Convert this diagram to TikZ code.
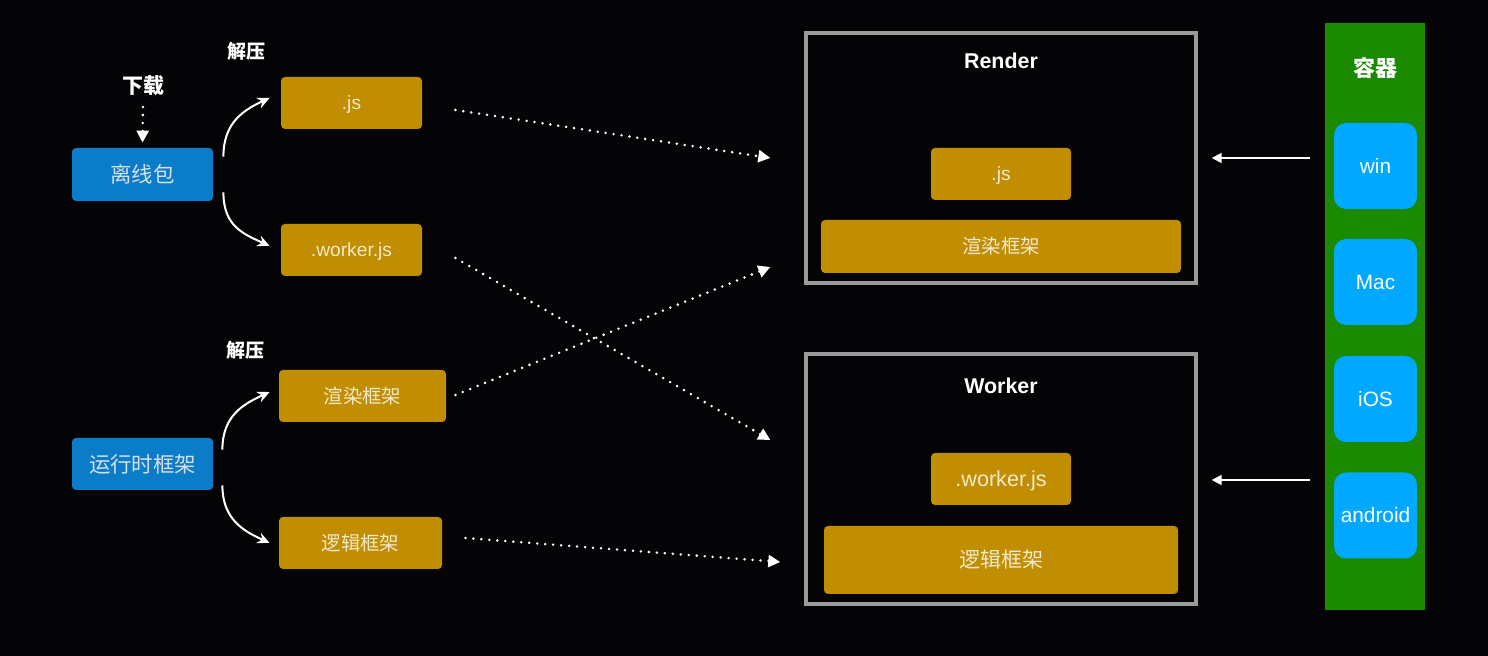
\documentclass[tikz,border=0pt]{standalone}
\usepackage{fontspec}
\setmainfont{Liberation Sans}
\newfontfamily\cjk{Noto Sans CJK SC}
\usetikzlibrary{arrows.meta,calc}
\definecolor{bgc}{HTML}{040306}
\definecolor{gold}{HTML}{C08E00}
\definecolor{goldtxt}{HTML}{F2E8CC}
\definecolor{dblue}{HTML}{0A7CC8}
\definecolor{dbluetxt}{HTML}{D6DEE8}
\definecolor{lblue}{HTML}{00A8FF}
\definecolor{cgreen}{HTML}{1A8A00}
\definecolor{frame}{HTML}{9A9A9A}
\tikzset{
  gbox/.style={fill=gold, rounded corners=2pt, inner sep=0pt, text=goldtxt, font=\fontsize{9.6}{11}\selectfont},
  latin/.style={text depth=0pt},
  bbox/.style={fill=dblue, rounded corners=2pt, inner sep=0pt, text=dbluetxt, font=\cjk\fontsize{10.7}{12}\selectfont},
  pbox/.style={fill=lblue, rounded corners=6pt, inner sep=0pt, text=white, minimum width=41.5pt, minimum height=43pt, font=\fontsize{10.4}{12}\selectfont},
  lbl/.style={text=white, font=\cjk\bfseries\fontsize{9.5}{11}\selectfont},
  sketch/.style={draw=frame, line width=1.7pt, inner sep=0pt, minimum width=195pt, minimum height=125pt},
  title/.style={text=white, font=\bfseries\fontsize{10.7}{12}\selectfont},
  curv/.style={draw=white, line width=1pt, -{Stealth[length=6pt,width=5.5pt]}},
  dotarrow/.style={draw=white, line width=1.4pt, line cap=round, dash pattern=on 0pt off 4pt, -{Triangle[length=6pt,width=6pt]}},
  solidarrow/.style={draw=white, line width=0.9pt, -{Triangle[length=5pt,width=5pt]}}
}
\begin{document}
\begin{tikzpicture}[x=0.5pt,y=-0.5pt]
\fill[bgc] (0,0) rectangle (1488,656);
\useasboundingbox (0,0) rectangle (1488,656);

% left: offline package
\node[bbox, minimum width=70.5pt, minimum height=26.5pt] (lp) at (142.5,174.5) {离线包};
\node[lbl, font=\cjk\bfseries\fontsize{10.5}{12}\selectfont] (dl) at (143,86) {下载};
\node[lbl] (jy1) at (246,51) {解压};
\coordinate (dltop) at (143,107);
\draw[dotarrow] (dltop) -- ($(lp.north)+(0,-5)$);

\node[gbox, latin, minimum width=70.5pt, minimum height=26pt] (js1) at (351.5,103) {.js};
\node[gbox, latin, minimum width=70.5pt, minimum height=26pt] (wjs1) at (351.5,250) {.worker.js};

\draw[curv] ($(lp.north east)+(10,9)$) .. controls +(0,-34) and +(-26,12) .. ($(js1.west)+(-11,-5)$);
\draw[curv] ($(lp.south east)+(10,-9)$) .. controls +(0,34) and +(-26,-12) .. ($(wjs1.west)+(-11,-4)$);

% left: runtime framework
\node[bbox, minimum width=70.5pt, minimum height=26pt] (rt) at (142.5,464) {运行时框架};
\node[lbl] (jy2) at (245,350) {解压};
\node[gbox, minimum width=83.5pt, minimum height=26pt, font=\cjk\fontsize{9.7}{11}\selectfont] (rf1) at (362.5,396) {渲染框架};
\node[gbox, minimum width=81.5pt, minimum height=26pt, font=\cjk\fontsize{9.7}{11}\selectfont] (lf1) at (360.5,543) {逻辑框架};

\draw[curv] ($(rt.north east)+(9,12)$) .. controls +(0,-34) and +(-26,12) .. ($(rf1.west)+(-9,-4)$);
\draw[curv] ($(rt.south east)+(9,-5)$) .. controls +(0,34) and +(-26,-12) .. ($(lf1.west)+(-9,0)$);

% Render box
\node[sketch] (render) at (1001,158) {};
\node[title] (rtitle) at (1001,61) {Render};
\node[gbox, latin, minimum width=70pt, minimum height=26pt] (js2) at (1001,174) {.js};
\node[gbox, minimum width=180pt, minimum height=26.5pt, font=\cjk\fontsize{9.7}{11}\selectfont] (rf2) at (1001,246.5) {渲染框架};

% Worker box
\node[sketch] (worker) at (1001,479) {};
\node[title] (wtitle) at (1001,386) {Worker};
\node[gbox, latin, minimum width=70pt, minimum height=26pt, font=\fontsize{10.8}{12}\selectfont] (wjs2) at (1001,479) {.worker.js};
\node[gbox, minimum width=177pt, minimum height=34pt, font=\cjk\fontsize{10.5}{12}\selectfont] (lf2) at (1001,560) {逻辑框架};

% dotted connectors
\draw[dotarrow] ($(js1.east)+(33,7)$) -- ($(render.west)+(-34,0)$);
\draw[dotarrow] ($(wjs1.east)+(33,8)$) -- ($(worker.west)+(-34,-39)$);
\draw[dotarrow] ($(rf1.east)+(9,-1)$) -- ($(render.west)+(-34,109)$);
\draw[dotarrow] ($(lf1.east)+(23,-5)$) -- ($(worker.west)+(-24,83)$);

% container
\node[fill=cgreen, inner sep=0pt, minimum width=50pt, minimum height=293.5pt] (cont) at (1375,316.5) {};
\node[lbl, font=\cjk\bfseries\fontsize{11}{12}\selectfont] (ctitle) at (1375,68) {容器};
\node[pbox] (win) at (1375.5,166) {win};
\node[pbox] (mac) at (1375.5,282) {Mac};
\node[pbox] (ios) at (1375.5,399) {iOS};
\node[pbox] (android) at (1375.5,515.5) {android};

\draw[solidarrow] ($(cont.west |- render.east)+(-15,0)$) -- ($(render.east)+(14,0)$);
\draw[solidarrow] ($(cont.west |- worker.east)+(-15,1)$) -- ($(worker.east)+(14,1)$);
\end{tikzpicture}
\end{document}
